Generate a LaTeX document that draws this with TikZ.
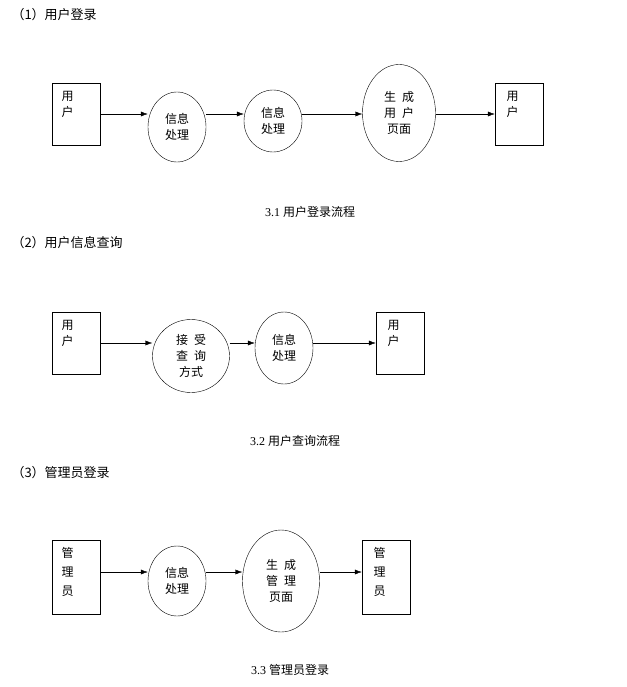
\documentclass[tikz,border=0pt]{standalone}
\usepackage{fontspec}
\setmainfont{Liberation Serif}
\newfontfamily\cjk{Noto Sans CJK SC}
\usetikzlibrary{shapes.geometric,arrows.meta}
\begin{document}
\begin{tikzpicture}[x=1pt,y=-1pt,font=\cjk\fontsize{12}{16}\selectfont,
 bx/.style={draw,minimum width=48pt,minimum height=62pt,inner sep=0pt},
 el/.style={draw,ellipse,inner sep=0pt,align=center},
 arr/.style={-{Latex[length=7pt,width=5pt]}},
 ttl/.style={anchor=west,font=\cjk\fontsize{13}{16}\selectfont},
 captext/.style={font=\fontsize{12}{14}\selectfont}]
\useasboundingbox (0,0) rectangle (626,687);
% row 1
\node[ttl] (t1) at (8,15) {（1）用户登录};
\node[bx] (u1) at (76,114) {};
\node[anchor=north west,align=left] (u1t) at (58,88) {用\\户};
\node[el,minimum width=58pt,minimum height=70pt] (e11) at (177,127) {信息\\处理};
\node[el,minimum width=58pt,minimum height=62pt] (e12) at (273,121) {信息\\处理};
\node[el,minimum width=73pt,minimum height=97pt] (e13) at (399,113) {生\enspace 成\\用\enspace 户\\页面};
\node[bx] (u2) at (519,114) {};
\node[anchor=north west,align=left] (u2t) at (503,88) {用\\户};
\draw[arr] (u1.east) -- (u1.east -| e11.west);
\draw[arr] (u1.east -| e11.east) -- (u1.east -| e12.west);
\draw[arr] (u1.east -| e12.east) -- (u1.east -| e13.west);
\draw[arr] (u1.east -| e13.east) -- (u2.west);
\node[captext] (c1) at (310,212) {3.1 \cjk 用户登录流程};
% row 2
\node[ttl] (t2) at (8,243) {（2）用户信息查询};
\node[bx] (v1) at (76,343) {};
\node[anchor=north west,align=left] (v1t) at (58,317) {用\\户};
\node[el,minimum width=77pt,minimum height=73pt] (e21) at (191,356) {接\enspace 受\\查\enspace 询\\方式};
\node[el,minimum width=58pt,minimum height=72pt] (e22) at (284,348) {信息\\处理};
\node[bx] (v2) at (400,343) {};
\node[anchor=north west,align=left] (v2t) at (384,317) {用\\户};
\draw[arr] (v1.east) -- (v1.east -| e21.west);
\draw[arr] (v1.east -| e21.east) -- (v1.east -| e22.west);
\draw[arr] (v1.east -| e22.east) -- (v2.west);
\node[captext] (c2) at (295,441) {3.2 \cjk 用户查询流程};
% row 3
\node[ttl] (t3) at (8,473) {（3）管理员登录};
\node[bx,minimum height=74pt] (w1) at (76,577) {};
\node[anchor=north west,align=left] (w1t) at (58,544) {管\\[3pt]理\\[3pt]员};
\node[el,minimum width=58pt,minimum height=70pt] (e31) at (177,581) {信息\\处理};
\node[el,minimum width=77pt,minimum height=102pt] (e32) at (281,581) {生\enspace 成\\管\enspace 理\\页面};
\node[bx,minimum height=74pt] (w2) at (386,577) {};
\node[anchor=north west,align=left] (w2t) at (370,544) {管\\[3pt]理\\[3pt]员};
\coordinate (q1) at (100,572);
\draw[arr] (q1) -- (q1 -| e31.west);
\draw[arr] (e31.east |- q1) -- (e32.west |- q1);
\draw[arr] (e32.east |- q1) -- (w2.west |- q1);
\node[captext] (c3) at (290,670) {3.3 \cjk 管理员登录};
\end{tikzpicture}
\end{document}
